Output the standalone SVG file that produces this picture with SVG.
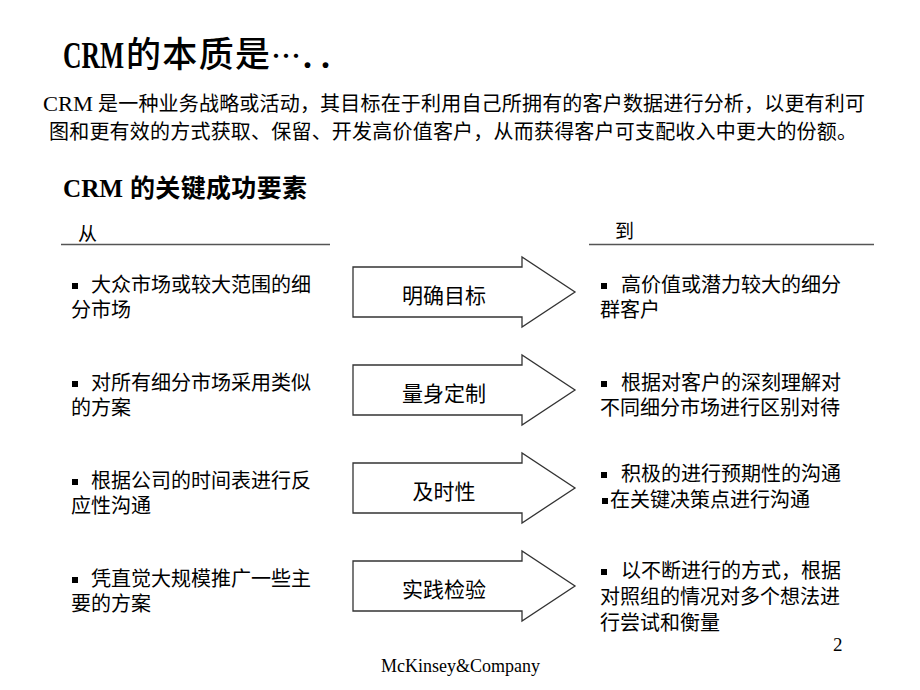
<svg xmlns="http://www.w3.org/2000/svg" xmlns:xlink="http://www.w3.org/1999/xlink" width="920" height="690" viewBox="0 0 920 690">
<style>
.cjk{font-family:"Noto Sans CJK SC","Noto Sans",sans-serif;fill:#000}
.ser{font-family:"Liberation Serif","Noto Sans CJK SC",serif;fill:#000}
.b20{font-size:20px}
.arrow{fill:#fff;stroke:#333;stroke-width:1.3}
.rule{stroke:#555;stroke-width:1.6}
.blt{fill:#000}
.lbl{font-size:21px;text-anchor:middle}
</style>
<defs>
<path id="arr" d="M353,-25 H522 V-35 L575,0 L522,35 V25 H353 Z"/>
<rect id="sq" width="6" height="6"/>
</defs>
<rect width="920" height="690" fill="#fff"/>

<g id="title">
<text class="ser" x="63" y="68" font-size="37" font-weight="bold" textLength="61" lengthAdjust="spacingAndGlyphs">CRM</text>
<text class="cjk" x="126" y="67" font-size="35" font-weight="500" textLength="144" lengthAdjust="spacing">的本质是</text>
<text class="cjk" x="271" y="67" font-size="30" font-weight="500">…</text>
<text class="ser" x="303" y="68" font-size="36" font-weight="bold">.</text>
<text class="ser" x="321" y="68" font-size="36" font-weight="bold">.</text>
</g>

<g id="intro">
<text class="ser" x="43" y="111" font-size="21" textLength="50" lengthAdjust="spacingAndGlyphs">CRM</text>
<text class="cjk b20" x="98" y="111" textLength="767" lengthAdjust="spacing">是一种业务战略或活动，其目标在于利用自己所拥有的客户数据进行分析，以更有利可</text>
<text class="cjk b20" x="49" y="139" textLength="808" lengthAdjust="spacing">图和更有效的方式获取、保留、开发高价值客户，从而获得客户可支配收入中更大的份额。</text>
</g>

<g id="heading">
<text class="ser" x="63" y="197" font-size="25" font-weight="bold" textLength="60" lengthAdjust="spacingAndGlyphs">CRM</text>
<text class="cjk" x="130" y="197" font-size="25" font-weight="700" textLength="177" lengthAdjust="spacing">的关键成功要素</text>
</g>

<g id="from-header">
<text class="cjk" x="78" y="241" font-size="19">从</text>
<line class="rule" x1="61" y1="244.5" x2="330" y2="244.5"/>
</g>
<g id="to-header">
<text class="cjk" x="615" y="238" font-size="19">到</text>
<line class="rule" x1="589" y1="244.5" x2="874" y2="244.5"/>
</g>

<g id="from-items">
<g id="from1">
<use href="#sq" x="72" y="283" class="blt"/>
<text class="cjk b20" x="91" y="292">大众市场或较大范围的细</text>
<text class="cjk b20" x="71" y="317">分市场</text>
</g>
<g id="from2">
<use href="#sq" x="72" y="381" class="blt"/>
<text class="cjk b20" x="91" y="390">对所有细分市场采用类似</text>
<text class="cjk b20" x="71" y="415">的方案</text>
</g>
<g id="from3">
<use href="#sq" x="72" y="479" class="blt"/>
<text class="cjk b20" x="91" y="488">根据公司的时间表进行反</text>
<text class="cjk b20" x="71" y="513">应性沟通</text>
</g>
<g id="from4">
<use href="#sq" x="72" y="577" class="blt"/>
<text class="cjk b20" x="91" y="586">凭直觉大规模推广一些主</text>
<text class="cjk b20" x="71" y="611">要的方案</text>
</g>
</g>

<g id="arrow1">
<use href="#arr" y="292" class="arrow"/>
<text class="cjk lbl" x="444" y="303">明确目标</text>
</g>
<g id="arrow2">
<use href="#arr" y="390" class="arrow"/>
<text class="cjk lbl" x="444" y="401">量身定制</text>
</g>
<g id="arrow3">
<use href="#arr" y="488" class="arrow"/>
<text class="cjk lbl" x="444" y="499">及时性</text>
</g>
<g id="arrow4">
<use href="#arr" y="586" class="arrow"/>
<text class="cjk lbl" x="444" y="597">实践检验</text>
</g>

<g id="to-items">
<g id="to1">
<use href="#sq" x="601" y="283" class="blt"/>
<text class="cjk b20" x="621" y="292">高价值或潜力较大的细分</text>
<text class="cjk b20" x="600" y="317">群客户</text>
</g>
<g id="to2">
<use href="#sq" x="601" y="381" class="blt"/>
<text class="cjk b20" x="621" y="390">根据对客户的深刻理解对</text>
<text class="cjk b20" x="600" y="415">不同细分市场进行区别对待</text>
</g>
<g id="to3">
<use href="#sq" x="601" y="472" class="blt"/>
<text class="cjk b20" x="621" y="481">积极的进行预期性的沟通</text>
<use href="#sq" x="602" y="498" class="blt"/>
<text class="cjk b20" x="610" y="507">在关键决策点进行沟通</text>
</g>
<g id="to4">
<use href="#sq" x="601" y="569" class="blt"/>
<text class="cjk b20" x="621" y="578">以不断进行的方式，根据</text>
<text class="cjk b20" x="600" y="604">对照组的情况对多个想法进</text>
<text class="cjk b20" x="600" y="630">行尝试和衡量</text>
</g>
</g>

<g id="connectors"></g>

<g id="footer">
<text class="ser" x="833" y="651" font-size="19">2</text>
<text class="ser" x="381" y="672" font-size="18">McKinsey&amp;Company</text>
</g>
</svg>
